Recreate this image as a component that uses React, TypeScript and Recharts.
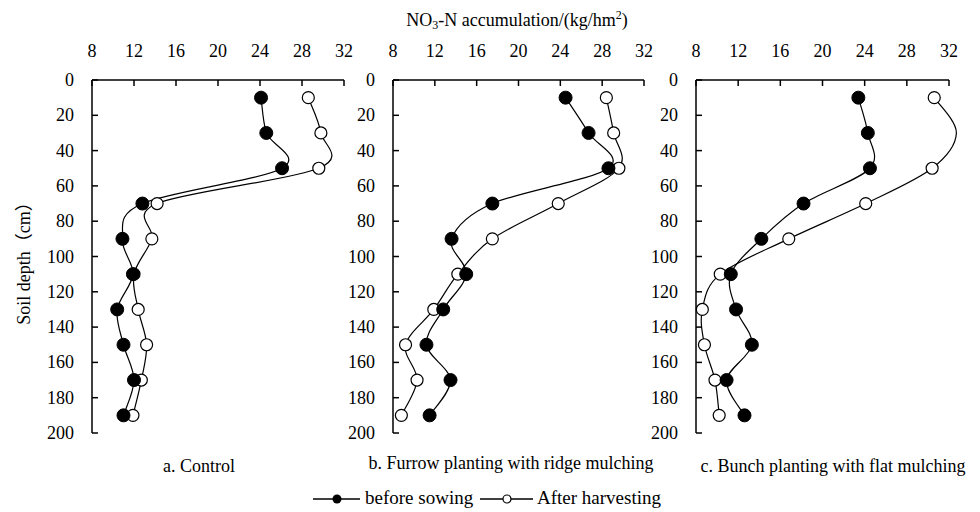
import React from "react";
import { LineChart, Line, XAxis, YAxis } from "recharts";

const depths = [10, 30, 50, 70, 90, 110, 130, 150, 170, 190];
const xTicks = [8, 12, 16, 20, 24, 28, 32];
const yTicks = [0, 20, 40, 60, 80, 100, 120, 140, 160, 180, 200];

const controlBefore = [24.1, 24.6, 26.1, 12.8, 10.9, 11.9, 10.4, 11.0, 12.0, 11.0];
const controlAfter = [28.6, 29.8, 29.6, 14.2, 13.7, 12.0, 12.4, 13.2, 12.7, 11.9];
const furrowBefore = [24.5, 26.7, 28.6, 17.5, 13.6, 15.0, 12.8, 11.2, 13.5, 11.5];
const furrowAfter = [28.4, 29.1, 29.6, 23.8, 17.5, 14.2, 11.9, 9.2, 10.3, 8.8];
const bunchBefore = [23.4, 24.3, 24.5, 18.2, 14.2, 11.3, 11.8, 13.3, 10.9, 12.6];
const bunchAfter = [30.6, 32.7, 30.4, 24.1, 16.8, 10.3, 8.6, 8.8, 9.8, 10.2];

const captions = [
  "a. Control",
  "b. Furrow planting with ridge mulching",
  "c. Bunch planting with flat mulching",
];

const FONT = "'Liberation Serif', serif";

function smoothCurve(context: any) {
  let pts: number[][] = [];
  return {
    areaStart() {},
    areaEnd() {},
    lineStart() {
      pts = [];
    },
    lineEnd() {
      const n = pts.length;
      if (!n) return;
      context.moveTo(pts[0][0], pts[0][1]);
      for (let i = 0; i < n - 1; i++) {
        const p0 = pts[i - 1] || pts[i];
        const p1 = pts[i];
        const p2 = pts[i + 1];
        const p3 = pts[i + 2] || p2;
        const c1x = p1[0] + (p2[0] - p0[0]) / 6;
        const c1y = p1[1] + (p2[1] - p0[1]) / 6;
        const c2x = p2[0] - (p3[0] - p1[0]) / 6;
        const c2y = p2[1] - (p3[1] - p1[1]) / 6;
        context.bezierCurveTo(c1x, c1y, c2x, c2y, p2[0], p2[1]);
      }
    },
    point(x: number, y: number) {
      pts.push([+x, +y]);
    },
  };
}

const XTick = (props: any) => {
  const { x, y, payload } = props;
  return (
    <g>
      <line x1={x} y1={y} x2={x} y2={y + 6} stroke="#000" strokeWidth={1.5} />
      <text
        x={x}
        y={y - 29}
        textAnchor="middle"
        dominantBaseline="central"
        fontSize={18}
        fontFamily={FONT}
        fill="#000"
      >
        {payload.value}
      </text>
    </g>
  );
};

const YTick = (props: any) => {
  const { x, y, payload } = props;
  return (
    <g>
      <line x1={x} y1={y} x2={x + 6} y2={y} stroke="#000" strokeWidth={1.5} />
      <text
        x={x - 18}
        y={y}
        textAnchor="end"
        dominantBaseline="central"
        fontSize={18}
        fontFamily={FONT}
        fill="#000"
      >
        {payload.value}
      </text>
    </g>
  );
};

const FilledDot = (props: any) => {
  const { cx, cy, value, index } = props;
  if (cx == null || cy == null || value > 32) return <g key={`f${index}`} />;
  return <circle key={`f${index}`} cx={cx} cy={cy} r={6.5} fill="#000" stroke="#000" strokeWidth={1} />;
};

const OpenDot = (props: any) => {
  const { cx, cy, value, index } = props;
  if (cx == null || cy == null || value > 32) return <g key={`o${index}`} />;
  return <circle key={`o${index}`} cx={cx} cy={cy} r={6} fill="#fff" stroke="#000" strokeWidth={1.2} />;
};

type PanelProps = {
  left: number;
  width: number;
  plotLeft: number;
  plotRight: number;
  before: number[];
  after: number[];
};

const TOP = 80;
const BOTTOM = 433;
const H = 460;

function Panel({ left, width, plotLeft, plotRight, before, after }: PanelProps) {
  const data = depths.map((d, i) => ({ depth: d, before: before[i], after: after[i] }));
  const margin = {
    top: TOP - 30,
    left: plotLeft - left - 60,
    right: left + width - plotRight,
    bottom: H - BOTTOM,
  };
  return (
    <div style={{ position: "absolute", left, top: 0 }} className="nclip">
      <LineChart width={width} height={H} data={data} layout="vertical" margin={margin}>
        <XAxis
          type="number"
          orientation="top"
          domain={[8, 32]}
          ticks={xTicks}
          allowDataOverflow
          interval={0}
          height={30}
          tickSize={0}
          tickMargin={0}
          tick={<XTick />}
          axisLine={{ stroke: "#000", strokeWidth: 1.5 }}
        />
        <YAxis
          type="number"
          dataKey="depth"
          domain={[0, 200]}
          ticks={yTicks}
          allowDataOverflow
          interval={0}
          width={60}
          tickSize={0}
          tickMargin={0}
          tick={<YTick />}
          axisLine={{ stroke: "#000", strokeWidth: 1.5 }}
        />
        <Line
          dataKey="after"
          type={smoothCurve as any}
          stroke="#000"
          strokeWidth={1.2}
          dot={OpenDot}
          activeDot={false}
          isAnimationActive={false}
        />
        <Line
          dataKey="before"
          type={smoothCurve as any}
          stroke="#000"
          strokeWidth={1.2}
          dot={FilledDot}
          activeDot={false}
          isAnimationActive={false}
        />
      </LineChart>
    </div>
  );
}

const textStyle: React.CSSProperties = {
  position: "absolute",
  fontFamily: FONT,
  fontSize: 18,
  color: "#000",
  whiteSpace: "nowrap",
  lineHeight: "20px",
};

export default function App() {
  return (
    <div
      style={{
        position: "absolute",
        left: 0,
        top: 0,
        width: 980,
        height: 512,
        background: "#fff",
        overflow: "hidden",
      }}
    >
      <style>{".nclip [clip-path]{clip-path:none !important;}"}</style>
      <Panel left={0} width={360} plotLeft={92} plotRight={344} before={controlBefore} after={controlAfter} />
      <Panel left={300} width={360} plotLeft={393} plotRight={644} before={furrowBefore} after={furrowAfter} />
      <Panel left={600} width={380} plotLeft={696} plotRight={949} before={bunchBefore} after={bunchAfter} />

      <div style={{ ...textStyle, fontSize: 18, left: 517, top: 10, transform: "translateX(-50%)" }}>
        NO<sub style={{ fontSize: 12, verticalAlign: "-3px", lineHeight: 0 }}>3</sub>-N accumulation/(kg/hm
        <sup style={{ fontSize: 12, verticalAlign: "7px", lineHeight: 0 }}>2</sup>)
      </div>

      <div
        style={{
          ...textStyle,
          left: 23,
          top: 259,
          transform: "translate(-50%, -50%) rotate(-90deg)",
        }}
      >
        Soil depth<span style={{ fontFamily: "'Noto Sans CJK SC', serif" }}>（</span>cm
        <span style={{ fontFamily: "'Noto Sans CJK SC', serif" }}>）</span>
      </div>

      <div style={{ ...textStyle, left: 199, top: 456, transform: "translateX(-50%)" }}>{captions[0]}</div>
      <div style={{ ...textStyle, left: 511, top: 453, transform: "translateX(-50%)" }}>{captions[1]}</div>
      <div style={{ ...textStyle, left: 833, top: 456, transform: "translateX(-50%)" }}>{captions[2]}</div>

      <svg style={{ position: "absolute", left: 0, top: 0 }} width={980} height={512}>
        <line x1={313} y1={499} x2={360} y2={499} stroke="#000" strokeWidth={1.5} />
        <circle cx={337} cy={499} r={4.5} fill="#000" />
        <line x1={480} y1={499} x2={533} y2={499} stroke="#000" strokeWidth={1.5} />
        <circle cx={507} cy={499} r={4} fill="#fff" stroke="#000" strokeWidth={1.2} />
      </svg>
      <div style={{ ...textStyle, fontSize: 19, left: 365, top: 488 }}>before sowing</div>
      <div style={{ ...textStyle, fontSize: 19, left: 537, top: 488 }}>After harvesting</div>
    </div>
  );
}
